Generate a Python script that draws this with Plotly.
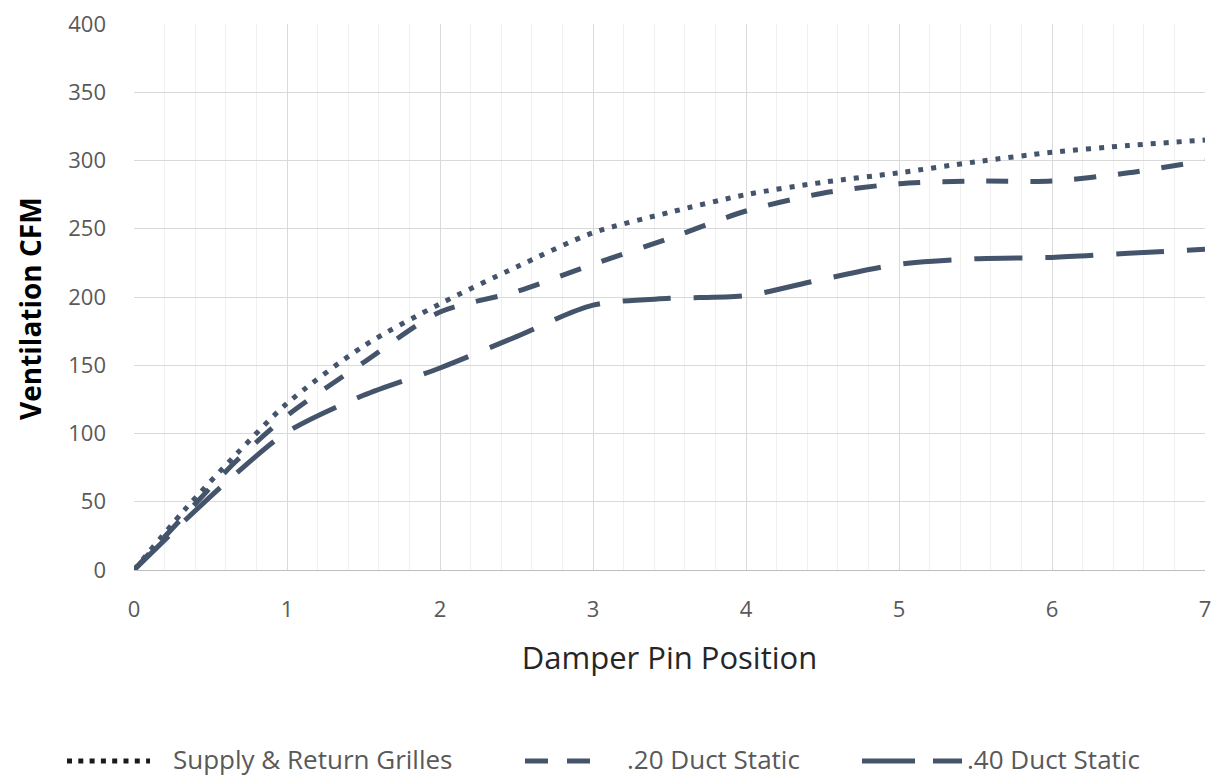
import plotly.graph_objects as go

# Damper pin positions (x) and ventilation CFM readings
pin_position = [0, 0.33, 0.67, 1, 1.5, 2, 2.5, 3, 3.5, 4, 4.5, 5, 5.5, 6, 6.5, 7]
supply_return = [0, 44, 85, 122, 164, 195, 222, 247, 262, 275, 284, 291, 299, 306, 311, 315]
duct_static_20 = [0, 40, 80, 113, 152, 189, 204, 224, 243, 263, 276, 283, 285, 285, 291, 300]
duct_static_40 = [0, 36, 71, 101, 128, 148, 171, 194, 199, 201, 213, 224, 228, 229, 232, 235]

series_names = ["Supply & Return Grilles", ".20 Duct Static", ".40 Duct Static"]
y_ticks = [0, 50, 100, 150, 200, 250, 300, 350, 400]
x_ticks = [0, 1, 2, 3, 4, 5, 6, 7]

LINE = "#44546A"
FONT = "Open Sans"
W, H = 1220, 778
ML, MR, MT, MB = 134, 15, 24, 208
PW, PH = W - ML - MR, H - MT - MB

series = [supply_return, duct_static_20, duct_static_40]
dashes = ["5px,8px", "22px,22px", "48px,23px"]

fig = go.Figure()
for name, vals, dash in zip(series_names, series, dashes):
    fig.add_trace(go.Scatter(x=pin_position, y=vals, name=name, mode="lines", showlegend=False,
                             line=dict(color=LINE, width=5, dash=dash, shape="spline", smoothing=0.8)))

# Custom legend (Excel-style wide samples)
def px(x):
    return (x - ML) / PW

def py(y):
    return (H - MB - y) / PH

leg_y = 761
legend_samples = [
    dict(x0=67, x1=150, color="#1a1a1a", dash="5px,6.3px"),
    dict(x0=525, x1=593, color=LINE, dash="23px,19px"),
    dict(x0=862, x1=962, color=LINE, dash="53px,18px"),
]
legend_text_x = [172, 626, 966]
for s, name, tx in zip(legend_samples, series_names, legend_text_x):
    fig.add_shape(type="line", xref="paper", yref="paper",
                  x0=px(s["x0"]), x1=px(s["x1"]), y0=py(leg_y), y1=py(leg_y),
                  line=dict(color=s["color"], width=5, dash=s["dash"]))
    fig.add_annotation(xref="paper", yref="paper", x=px(tx), y=py(759),
                       xanchor="left", yanchor="middle", showarrow=False, text=name,
                       borderpad=0,
                       font=dict(size=26, color="#595959", family=FONT))

# Y axis title placed like the reference
fig.add_annotation(xref="paper", yref="paper", x=px(30), y=py(309),
                   xanchor="center", yanchor="middle", showarrow=False, textangle=-90,
                   text="<b>Ventilation CFM</b>",
                   font=dict(size=28, color="#000000", family=FONT))

fig.update_layout(
    width=W, height=H,
    margin=dict(l=ML, r=MR, t=MT, b=MB),
    paper_bgcolor="white", plot_bgcolor="white",
    font=dict(family=FONT, color="#595959", size=22),
    showlegend=False,
    xaxis=dict(range=[0, 7], tickvals=x_ticks, ticktext=[str(v) for v in x_ticks],
               automargin=False,
               showgrid=True, gridcolor="#d9d9d9", gridwidth=1,
               minor=dict(dtick=0.2, showgrid=True, gridcolor="#f0f0f0", gridwidth=1),
               showline=True, linecolor="#bfbfbf", linewidth=1, zeroline=False,
               ticks="", ticklabelstandoff=20,
               tickfont=dict(size=22, color="#595959", family=FONT),
               title=dict(text="Damper Pin Position", standoff=24,
                          font=dict(size=31, color="#262626", family=FONT))),
    yaxis=dict(range=[0, 400], tickvals=y_ticks, ticktext=[str(v) for v in y_ticks],
               automargin=False,
               showgrid=True, gridcolor="#d9d9d9", gridwidth=1, zeroline=False,
               showline=False, ticks="", ticklabelstandoff=27,
               tickfont=dict(size=22, color="#595959", family=FONT)),
)

fig.write_html("out.html", config={"displayModeBar": False},
               post_script="document.body.style.margin='0';document.body.style.overflow='hidden';")
